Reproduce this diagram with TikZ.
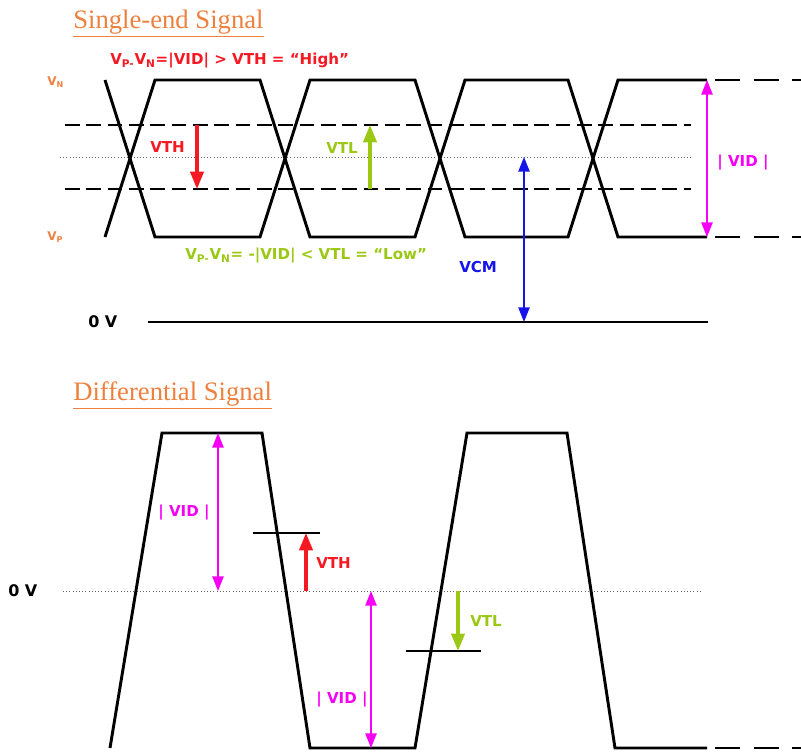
\documentclass[tikz,border=0pt]{standalone}
\usepackage{fontspec}
\setmainfont{Liberation Serif}
\setsansfont{DejaVu Sans}
\usetikzlibrary{arrows.meta}
\definecolor{ttlorange}{RGB}{238,128,62}
\definecolor{vred}{RGB}{245,25,35}
\definecolor{vgreen}{RGB}{155,200,20}
\definecolor{vblue}{RGB}{20,20,235}
\definecolor{vmag}{RGB}{245,0,245}

\begin{document}
\begin{tikzpicture}[x=0.75pt,y=-0.75pt,
  sigline/.style={line width=2.2pt,line join=miter},
  lvlline/.style={line width=1.5pt,dash pattern=on 11pt off 5pt},
  tailline/.style={line width=2.2pt,dash pattern=on 19pt off 10pt},
  midline/.style={line width=0.7pt,gray!80!black,dash pattern=on 0.8pt off 1.6pt},
  ttl/.style={text=ttlorange,font=\fontsize{20}{24}\selectfont,inner sep=0pt,anchor=base west},
  lbl/.style={font=\sffamily\bfseries\fontsize{11.3}{13}\selectfont,inner sep=0pt,anchor=west},
  vlbl/.style={text=ttlorange,font=\sffamily\bfseries\fontsize{9}{11}\selectfont,inner sep=0pt,anchor=west},
  thrarrow/.style={line width=2.3pt,-{Triangle[width=10pt,length=13pt]}},
  vidarrow/.style={line width=1.1pt,{Triangle[width=8.5pt,length=11pt]}-{Triangle[width=8.5pt,length=11pt]}}]
\useasboundingbox (0,0) rectangle (801,752);

% single-end
\node[ttl] (ttlse) at (73,29) {\underline{Single-end Signal}};
\node[lbl,text=vred] (high) at (110,61) {V\textsubscript{P-}V\textsubscript{N}=|VID| > VTH = “High”};
\node[vlbl] (vn) at (47,82) {V\textsubscript{N}};
\node[vlbl] (vp) at (47,237) {V\textsubscript{P}};
\node[lbl,text=vgreen] (low) at (185,256) {V\textsubscript{P-}V\textsubscript{N}= -|VID| < VTL = “Low”};
\node[lbl,font=\sffamily\bfseries\fontsize{12}{14}\selectfont] (zero) at (88,322) {0 V};

\draw[lvlline] (65,125) -- (691,125);
\draw[lvlline] (65,189) -- (691,189);
\draw[midline] (60,157) -- (691,157);
\draw[sigline] (105,80) -- (155,237) -- (260,237) -- (310,80) -- (415,80) -- (465,237) -- (568,237) -- (618,80) -- (707,80);
\draw[sigline] (105,237) -- (155,80) -- (260,80) -- (310,237) -- (415,237) -- (465,80) -- (568,80) -- (618,237) -- (707,237);
\draw[tailline] (715,80) -- (801,80);
\draw[tailline] (715,237) -- (801,237);
\draw[line width=1.9pt] (148,322) -- (708,322);

\coordinate (thU) at (197,125);
\coordinate (thL) at (197,189);
\coordinate (tlU) at (370,125);
\coordinate (tlL) at (370,189);
\coordinate (cmT) at (524,157);
\coordinate (cmB) at (524,322);
\coordinate (idT) at (707,80);
\coordinate (idB) at (707,237);
\draw[thrarrow,vred] (thU) -- (thL);
\draw[thrarrow,vgreen] (tlL) -- (tlU);
\draw[vidarrow,vblue] (cmT) -- (cmB);
\draw[vidarrow,vmag] (idT) -- (idB);
\node[lbl,text=vred] (vth) at (150,147) {VTH};
\node[lbl,text=vgreen] (vtl) at (326,148) {VTL};
\node[lbl,text=vblue] (vcm) at (459,267) {VCM};
\node[lbl,text=vmag] (vid) at (717,163) {| VID |};

% differential
\node[ttl] (ttldf) at (73,401) {\underline{Differential Signal}};
\node[lbl,font=\sffamily\bfseries\fontsize{12}{14}\selectfont] (zerod) at (8,591) {0 V};
\draw[midline] (63,591) -- (700,591);
\draw[sigline] (110,748) -- (162,433) -- (262,433) -- (310,748) -- (415,748) -- (467,433) -- (567,433) -- (615,748) -- (707,748);
\draw[tailline] (715,748) -- (801,748);
\draw[line width=1.3pt] (253,533) -- (320,533);
\draw[line width=1.3pt] (406,651) -- (481,651);

\coordinate (v1T) at (218,433);
\coordinate (v1B) at (218,591);
\coordinate (dthB) at (306,591);
\coordinate (dthT) at (306,533);
\coordinate (v2T) at (371,591);
\coordinate (v2B) at (371,748);
\coordinate (dtlT) at (458,591);
\coordinate (dtlB) at (458,651);
\draw[vidarrow,vmag] (v1T) -- (v1B);
\draw[thrarrow,vred] (dthB) -- (dthT);
\draw[vidarrow,vmag] (v2T) -- (v2B);
\draw[thrarrow,vgreen] (dtlT) -- (dtlB);
\node[lbl,text=vmag] (vidu) at (158,513) {| VID |};
\node[lbl,text=vred] (dvth) at (316,563) {VTH};
\node[lbl,text=vmag] (vidl) at (316,700) {| VID |};
\node[lbl,text=vgreen] (dvtl) at (470,621) {VTL};
\end{tikzpicture}
\end{document}
